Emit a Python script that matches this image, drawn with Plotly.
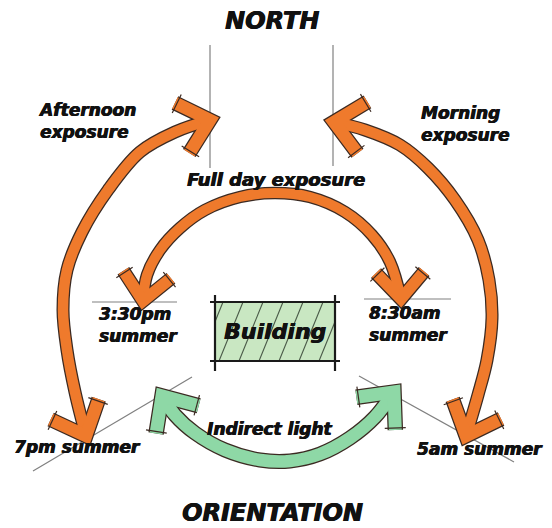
import numpy as np
import plotly.graph_objects as go

W, H = 552, 528
PAD = 8  # browser body margin; axes ranges compensate so data units equal page pixels

# ---- diagram data (pixel coordinates, y downward) ----
labels = ["NORTH", "Afternoon<br>exposure", "Morning<br>exposure", "Full day exposure",
          "3:30pm<br>summer", "8:30am<br>summer", "Building", "7pm summer",
          "Indirect light", "5am summer", "ORIENTATION"]
label_x = [272, 36, 419, 276, 97, 367, 275, 12, 205, 415, 272]
label_y = [21, 121, 124, 179, 325, 324, 331, 447, 429, 449, 513]
label_size = [24, 17, 17, 18, 17, 17, 22, 17, 17, 17, 24]
label_anchor = ["center", "left", "left", "center", "left", "left", "center", "left", "left", "left", "center"]

# thin reference lines (x0, y0, x1, y1)
ref_x0 = [210, 333, 92, 364, 33, 359]
ref_y0 = [45, 45, 302, 299, 471, 376]
ref_x1 = [210, 333, 177, 451, 192, 514]
ref_y1 = [168, 166, 302, 299, 377, 462]

# arrow centre lines, head tip to head tip
afternoon_arc_x = [210, 175, 140, 108, 82, 67, 63, 67, 75, 86]
afternoon_arc_y = [120, 132, 152, 190, 232, 270, 310, 350, 392, 436]
morning_arc_x = [334, 365, 400, 428, 455, 478, 489, 492, 487, 478, 466]
morning_arc_y = [122, 130, 145, 168, 200, 240, 280, 318, 360, 395, 436]
fullday_arc_x = [143, 147, 160, 180, 205, 240, 275, 310, 345, 372, 390, 401]
fullday_arc_y = [301, 275, 250, 228, 210, 197, 193, 197, 212, 235, 262, 299]
indirect_arc_x = [162, 175, 195, 225, 260, 290, 320, 350, 375, 394]
indirect_arc_y = [396, 415, 433, 450, 460, 461, 454, 438, 417, 392]
# direction each head points (degrees, 0 = right, 90 = down), start head / end head
afternoon_heads = [-16, 67]
morning_heads = [191, 112]
fullday_heads = [99, 88]
indirect_heads = [237, -50]

# building block
building_x = [215, 335]
building_y = [302, 361]

ORANGE = "#ef7a2c"
GREEN = "#8ed8a6"
OUTLINE = "#3b2a22"

fig = go.Figure()


def add_line(xs, ys, color, width, shape="linear"):
    fig.add_trace(go.Scatter(x=xs, y=ys, mode="lines", hoverinfo="skip",
                             line=dict(color=color, width=width, shape=shape, smoothing=1),
                             showlegend=False))


def head_pts(tx, ty, ang, half=42, L=38):
    a = np.radians(ang) + np.pi
    h = np.radians(half)
    p1 = (tx + L * np.cos(a + h), ty + L * np.sin(a + h))
    p2 = (tx + L * np.cos(a - h), ty + L * np.sin(a - h))
    return p1, p2


def add_arrow(xs, ys, heads, color, w, hw, L):
    hx, hy, tkx, tky = [], [], [], []
    for (tx, ty), ang in zip([(xs[0], ys[0]), (xs[-1], ys[-1])], heads):
        p1, p2 = head_pts(tx, ty, ang, L=L)
        hx += [p1[0], tx, p2[0], None]
        hy += [p1[1], ty, p2[1], None]
        for p in (p1, p2):
            ux, uy = p[0] - tx, p[1] - ty
            n = np.hypot(ux, uy)
            ux, uy = ux / n, uy / n
            nx, ny = -uy, ux
            r = hw / 2 + 4
            cx, cy = p[0] - ux * 2, p[1] - uy * 2
            tkx += [cx - nx * r, cx + nx * r, None]
            tky += [cy - ny * r, cy + ny * r, None]
    add_line(xs, ys, OUTLINE, w + 2.5, "spline")
    add_line(hx, hy, OUTLINE, hw + 2.5)
    add_line(xs, ys, color, w, "spline")
    add_line(hx, hy, color, hw)
    add_line(tkx, tky, OUTLINE, 1.2)


# thin reference lines
rx, ry = [], []
for a, b, c, d in zip(ref_x0, ref_y0, ref_x1, ref_y1):
    rx += [a, c, None]
    ry += [b, d, None]
add_line(rx, ry, "#808080", 1.2)

# building fill
bx0, bx1 = building_x
by0, by1 = building_y
fig.add_trace(go.Scatter(x=[bx0, bx1, bx1, bx0, bx0], y=[by0, by0, by1, by1, by0],
                         mode="lines", fill="toself", fillcolor="#c9e7c2",
                         line=dict(width=0), hoverinfo="skip", showlegend=False))
# hatch
hx, hy = [], []
dx = 24
for c in np.arange(bx0 - dx + 8, bx1, 20):
    xa, ya, xb, yb = c, by1, c + dx, by0
    t0, t1 = 0.0, 1.0
    if xa < bx0:
        t0 = (bx0 - xa) / (xb - xa)
    if xb > bx1:
        t1 = (bx1 - xa) / (xb - xa)
    if t1 <= t0:
        continue
    hx += [xa + t0 * (xb - xa), xa + t1 * (xb - xa), None]
    hy += [ya + t0 * (yb - ya), ya + t1 * (yb - ya), None]
add_line(hx, hy, "#4a5a48", 1.1)
# building outline, sketch style with overshoot
ox = [bx0 - 5, bx1 + 5, None, bx0 - 5, bx1 + 5, None, bx0, bx0, None, bx1, bx1]
oy = [by0, by0, None, by1, by1, None, by0 - 7, by1 + 10, None, by0 - 7, by1 + 10]
add_line(ox, oy, "#1a1a1a", 2.2)

add_arrow(afternoon_arc_x, afternoon_arc_y, afternoon_heads, ORANGE, 10.5, 12.5, 39)
add_arrow(morning_arc_x, morning_arc_y, morning_heads, ORANGE, 10.5, 12.5, 39)
add_arrow(fullday_arc_x, fullday_arc_y, fullday_heads, ORANGE, 10, 11.5, 36)
add_arrow(indirect_arc_x, indirect_arc_y, indirect_heads, GREEN, 12.5, 13, 38)

for t, x, y, s, anc in zip(labels, label_x, label_y, label_size, label_anchor):
    fig.add_annotation(x=x, y=y, text="<b><i>" + t + "</i></b>", showarrow=False,
                       xanchor=anc, yanchor="middle", align=anc if anc != "center" else "center",
                       font=dict(family="DejaVu Sans", size=s, color="#111111",
                                 shadow="0.6px 0 0 #111111, -0.3px 0.3px 0 #111111"))

fig.update_layout(width=W - PAD, height=H - PAD, margin=dict(l=0, r=0, t=0, b=0),
                  paper_bgcolor="white", plot_bgcolor="white", hovermode=False,
                  xaxis=dict(range=[PAD, W], visible=False, fixedrange=True),
                  yaxis=dict(range=[H, PAD], visible=False, fixedrange=True))
fig.write_html("out.html")
